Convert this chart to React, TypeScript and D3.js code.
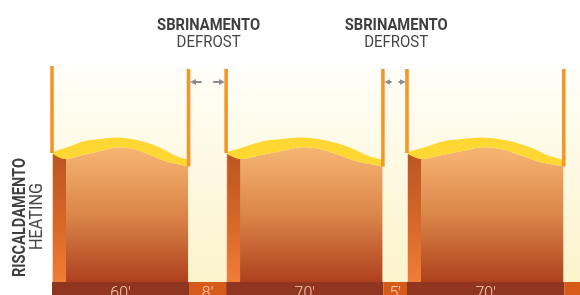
import React from "react";
import * as d3 from "d3";

// cycle phases along the bottom band (spans, chart units)
const phases = ["heat", "defrost", "heat", "defrost", "heat", "defrost"];
const spans = [61, 16.5, 70, 10.5, 70, 7];
const durationLabels = ["60'", "8'", "70'", "5'", "70'", ""];

const titleMain = "SBRINAMENTO";
const titleSub = "DEFROST";
const axisMain = "RISCALDAMENTO";
const axisSub = "HEATING";

// wave on top of each heating block: [fraction of block width, level 0-100]
const waveTop = [
  [0, 61.0], [0.1, 63.1], [0.23, 66.1], [0.35, 67.1], [0.47, 67.8],
  [0.63, 66.5], [0.79, 63.1], [0.91, 59.2], [1, 57.4],
];
const waveBottom = [
  [0, 60.1], [0.09, 57.7], [0.22, 59.6], [0.35, 61.5], [0.48, 63.3],
  [0.6, 62.4], [0.72, 59.6], [0.85, 56.3], [1, 54.5],
];

const W = 580;
const H = 295;
const left = 52;
const barTop = 282;
const sideW = 14;

export default function App() {
  const edges = [0];
  spans.forEach((s) => edges.push(edges[edges.length - 1] + s));

  const x = d3.scaleLinear().domain([0, edges[edges.length - 1]]).range([left, W]);
  const y = d3.scaleLinear().domain([0, 100]).range([barTop, 69]);

  const segs = phases.map((p, i) => ({
    phase: p,
    label: durationLabels[i],
    x0: x(edges[i]),
    x1: x(edges[i + 1]),
  }));

  const heat = segs.filter((s) => s.phase === "heat");
  const gaps = segs.filter((s, i) => s.phase === "defrost" && i < segs.length - 1);

  return (
    <div style={{ position: "fixed", left: 0, top: 0 }}>
      <svg width={W} height={H} style={{ display: "block" }}>
        <defs>
          <linearGradient id="cream" x1="0" y1="0" x2="0" y2="1">
            <stop offset="0" stopColor="#FFFEF8" />
            <stop offset="1" stopColor="#FBF3CA" />
          </linearGradient>
          <linearGradient id="front" gradientUnits="userSpaceOnUse" x1="0" y1="145" x2="0" y2={barTop}>
            <stop offset="0" stopColor="#F7B774" />
            <stop offset="0.5" stopColor="#DC874A" />
            <stop offset="1" stopColor="#AE401D" />
          </linearGradient>
          <linearGradient id="side" gradientUnits="userSpaceOnUse" x1="0" y1="153" x2="0" y2={barTop}>
            <stop offset="0" stopColor="#BA5522" />
            <stop offset="0.6" stopColor="#DA6A2A" />
            <stop offset="1" stopColor="#F07E37" />
          </linearGradient>
          <marker id="ah" viewBox="0 0 10 10" refX="5" refY="5" markerWidth="3" markerHeight="3" orient="auto-start-reverse">
            <path d="M0,0 L10,5 L0,10 z" fill="#8C8C8C" />
          </marker>
        </defs>

        <rect x={left} y={y(100)} width={W - left} height={barTop - y(100)} fill="url(#cream)" />

        {heat.map((s, i) => {
          const bx = d3.scaleLinear().domain([0, 1]).range([s.x0 + 1, s.x1 - 1]);
          const frontArea = d3
            .area()
            .x((d) => bx(d[0]))
            .y0(barTop)
            .y1((d) => y(d[1]))
            .curve(d3.curveMonotoneX);
          const bandTop = waveTop.map((d, k) => [d[0], d[1], waveBottom[k]]);
          const band = d3
            .area()
            .x((d) => bx(d[0]))
            .y((d) => y(d[1]))
            .curve(d3.curveMonotoneX);
          const topLine = d3.line().x((d) => bx(d[0])).y((d) => y(d[1])).curve(d3.curveMonotoneX);
          const botLine = d3.line().x((d) => bx(d[0])).y((d) => y(d[1])).curve(d3.curveMonotoneX);
          const bandPath =
            topLine(waveTop) +
            "L" +
            botLine([...waveBottom].reverse()).slice(1) +
            "Z";
          const sx0 = s.x0 + 1;
          const sx1 = s.x0 + sideW;
          return (
            <g key={i}>
              <path d={frontArea(waveBottom)} fill="url(#front)" />
              <path
                d={`M${sx0},${y(waveBottom[0][1])}L${sx1},${y(waveBottom[1][1])}L${sx1},${barTop}L${sx0},${barTop}Z`}
                fill="url(#side)"
              />
              <line x1={s.x0 + 0.5} x2={s.x0 + 0.5} y1={y(waveBottom[0][1])} y2={barTop} stroke="#F2D2B4" strokeWidth={1} />
              <path d={bandPath} fill="#FFD733" />
              <rect x={s.x0 - 1.8} y={i === 0 ? 66 : y(100)} width={3.6} height={153 - (i === 0 ? 66 : y(100))} fill="#F4972A" />
              <rect x={s.x1 - 2.3} y={y(100)} width={3.6} height={166.5 - y(100)} fill="#F4972A" />
            </g>
          );
        })}

        {gaps.map((s, i) => {
          const gx0 = s.x0 + 1.5;
          const gx1 = s.x1 - 1.8;
          const len = (gx1 - gx0) * 0.33;
          const cx = (s.x0 + s.x1) / 2;
          return (
            <g key={i}>
              <line x1={gx0 + len} x2={gx0 + 2.5} y1={82} y2={82} stroke="#8C8C8C" strokeWidth={2} markerEnd="url(#ah)" />
              <line x1={gx1 - len} x2={gx1 - 2.5} y1={82} y2={82} stroke="#8C8C8C" strokeWidth={2} markerEnd="url(#ah)" />
              <text x={cx + 1} y={30} textAnchor="middle" fontFamily="Roboto, sans-serif" fontWeight={700} fontSize={16} fill="#3F3F3F" textLength={103} lengthAdjust="spacingAndGlyphs">
                {titleMain}
              </text>
              <text x={cx + 1} y={46.5} textAnchor="middle" fontFamily="Roboto, sans-serif" fontWeight={400} fontSize={17} fill="#454545" textLength={64} lengthAdjust="spacingAndGlyphs">
                {titleSub}
              </text>
            </g>
          );
        })}

        {segs.map((s, i) => (
          <g key={i}>
            <rect x={s.x0} y={barTop} width={s.x1 - s.x0} height={H - barTop} fill={s.phase === "heat" ? "#8F3520" : "#D65A18"} />
            <text x={(s.x0 + s.x1) / 2} y={297.5} textAnchor="middle" fontFamily="Roboto, sans-serif" fontWeight={300} fontSize={16} fill="#F5D0BA">
              {s.label}
            </text>
          </g>
        ))}

        <text transform="translate(25,217.5) rotate(-90)" textAnchor="middle" fontFamily="Roboto, sans-serif" fontWeight={700} fontSize={17.5} fill="#3F3F3F" textLength={119} lengthAdjust="spacingAndGlyphs">
          {axisMain}
        </text>
        <text transform="translate(41.5,216.5) rotate(-90)" textAnchor="middle" fontFamily="Roboto, sans-serif" fontWeight={400} fontSize={17.5} fill="#454545" textLength={67} lengthAdjust="spacingAndGlyphs">
          {axisSub}
        </text>
      </svg>
    </div>
  );
}
